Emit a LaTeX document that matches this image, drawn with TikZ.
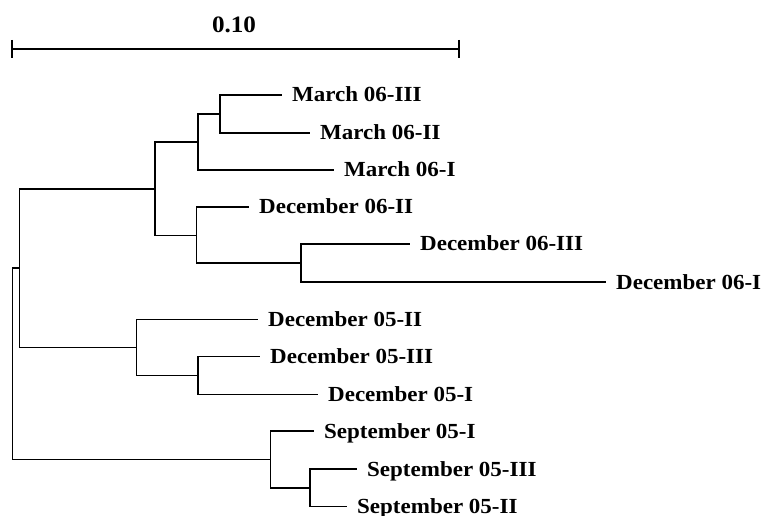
\documentclass[tikz,border=0pt]{standalone}
\usepackage{fontspec}
\setmainfont{Liberation Serif}[FakeStretch=1.07]

\tikzset{
  branch/.style={draw=black,line width=1.3pt},
  leaf/.style={anchor=base west,inner sep=0pt,xshift=10pt,yshift=-7pt,
    font=\bfseries\fontsize{21.5}{24}\selectfont}
}

\begin{document}
\begin{tikzpicture}[x=1pt,y=-1pt]

  \useasboundingbox (0,0) rectangle (769,516);

  % draw scale bar
  \coordinate (sL) at (12,49);
  \coordinate (sR) at (459,49);
  \draw[branch] (sL) -- (sR);
  \draw[branch] ([yshift=9pt]sL) -- ([yshift=-9pt]sL);
  \draw[branch] ([yshift=9pt]sR) -- ([yshift=-9pt]sR);
  \node[font=\bfseries\fontsize{23.5}{26}\selectfont] (scale) at (234,25) {0.10};

  % inner nodes of the tree
  \coordinate (root) at (12.3,364);
  \coordinate (nH) at (19.3,268);
  \coordinate (nE) at (155,189);
  \coordinate (nB) at (198,142);
  \coordinate (nA) at (220,114);
  \coordinate (nC) at (196.5,235.5);
  \coordinate (nD) at (301,263);
  \coordinate (nG) at (136.7,347.5);
  \coordinate (nF) at (198,375.5);
  \coordinate (nI) at (270.7,459.5);
  \coordinate (nJ) at (310,488);

  % draw leaves with nodes
  \foreach \n/\x/\y/\t in {m3/282/95/March 06-III, m2/310/133/March 06-II,
      m1/334/170/March 06-I, d2/249/207/December 06-II,
      d3/410/244/December 06-III, d1/606/282/December 06-I,
      c2/258/319.3/December 05-II, c3/260/356.7/December 05-III,
      c1/318/394.3/December 05-I, s1/314/431/September 05-I,
      s3/357/469/September 05-III, s2/347/506.7/September 05-II} {
    \coordinate (\n) at (\x,\y);
    \node[leaf] (\n-txt) at (\n) {\t};
  };

  % draw branches
  \foreach \p/\c in {root/nH, root/nI, nH/nE, nH/nG, nE/nB, nE/nC,
      nB/nA, nB/m1, nA/m3, nA/m2, nC/d2, nC/nD, nD/d3, nD/d1,
      nG/c2, nG/nF, nF/c3, nF/c1, nI/s1, nI/nJ, nJ/s3, nJ/s2} {
    \draw[branch] (\p) |- (\c);
  };

\end{tikzpicture}
\end{document}
